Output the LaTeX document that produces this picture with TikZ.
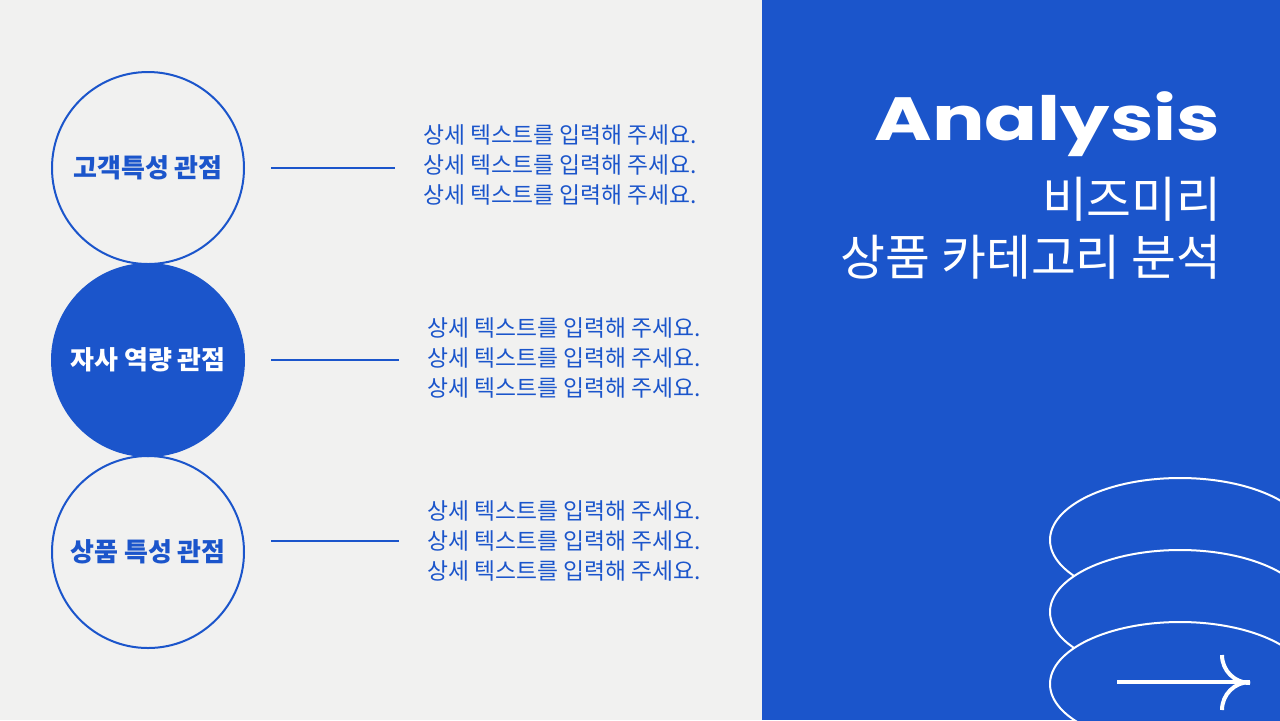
\documentclass[tikz,border=0pt]{standalone}
\usepackage{fontspec}
\setmainfont{Noto Sans CJK KR}
\newfontfamily\titlefont{Poppins}
\usepackage{tikz}

\definecolor{brandblue}{HTML}{1B55CB}
\definecolor{paper}{HTML}{F1F1F0}

\tikzset{
  viewpoint/.style={circle, draw=brandblue, line width=1pt, minimum size=96pt, inner sep=0pt,
    font=\bfseries\fontsize{13}{15}\selectfont, text=brandblue},
  detail/.style={anchor=west, inner sep=0pt, align=left, text=brandblue,
    font=\fontsize{11.4}{15}\selectfont},
  link/.style={draw=brandblue, line width=0.75pt, shorten <=13pt, shorten >=14pt},
  ring/.style={draw=white, line width=1pt, fill=brandblue}
}

\begin{document}
\begin{tikzpicture}[x=0.5pt, y=-0.5pt]
                \useasboundingbox (0,0) rectangle (1280,720);
                % Background
                \fill[paper] (0,0) rectangle (762,720);
                \fill[brandblue] (762,0) rectangle (1280,720);

                % Viewpoint circles
                \node[viewpoint] (c1) at (148,168) {고객특성 관점};
                \node[viewpoint, fill=brandblue, text=white] (c2) at (148,360) {자사 역량 관점};
                \node[viewpoint] (c3) at (148,552) {상품 특성 관점};

                % Detail text
                \node[detail] (t1) at (423,165) {상세 텍스트를 입력해 주세요.\\상세 텍스트를 입력해 주세요.\\상세 텍스트를 입력해 주세요.};
                \node[detail] (t2) at (427,358) {상세 텍스트를 입력해 주세요.\\상세 텍스트를 입력해 주세요.\\상세 텍스트를 입력해 주세요.};
                \node[detail] (t3) at (427,541) {상세 텍스트를 입력해 주세요.\\상세 텍스트를 입력해 주세요.\\상세 텍스트를 입력해 주세요.};

                % Links
                \draw[link] (c1.east |- t1.west) ++(0,3) -- (t1.west |- c1.east);
                \draw[link] (c2.east) -- (t2.west |- c2.east);
                \draw[link] (c3.east |- t3.west) -- (t3.west);

                % Title
                \node[anchor=base east, inner sep=0pt, text=white, xscale=1.28,
                      font=\titlefont\bfseries\fontsize{30.5}{32}\selectfont] (title) at (1221,140) {Analysis};
                \node[anchor=east, inner sep=0pt, text=white, align=right,
                      font=\fontsize{24.4}{29}\selectfont] (subtitle) at (1222,228) {비즈미리\\상품 카테고리 분석};

                % Rings
                \begin{scope}
                  \clip (762,0) rectangle (1280,720);
                  \foreach \y in {540,612,684} {
                    \draw[ring] (1180,\y) ellipse [x radius=130, y radius=62];
                  }
                \end{scope}

                % Arrow
                \coordinate (tail) at (1117,682);
                \coordinate (tip) at (1250,682);
                \draw[white, line width=2pt] (tail) -- (tip);
                \draw[white, line width=2pt] (1222,655) arc[start angle=180, end angle=90, x radius=28, y radius=28];
                \draw[white, line width=2pt] (1222,710) arc[start angle=180, end angle=270, x radius=28, y radius=28];
            \end{tikzpicture}
\end{document}
